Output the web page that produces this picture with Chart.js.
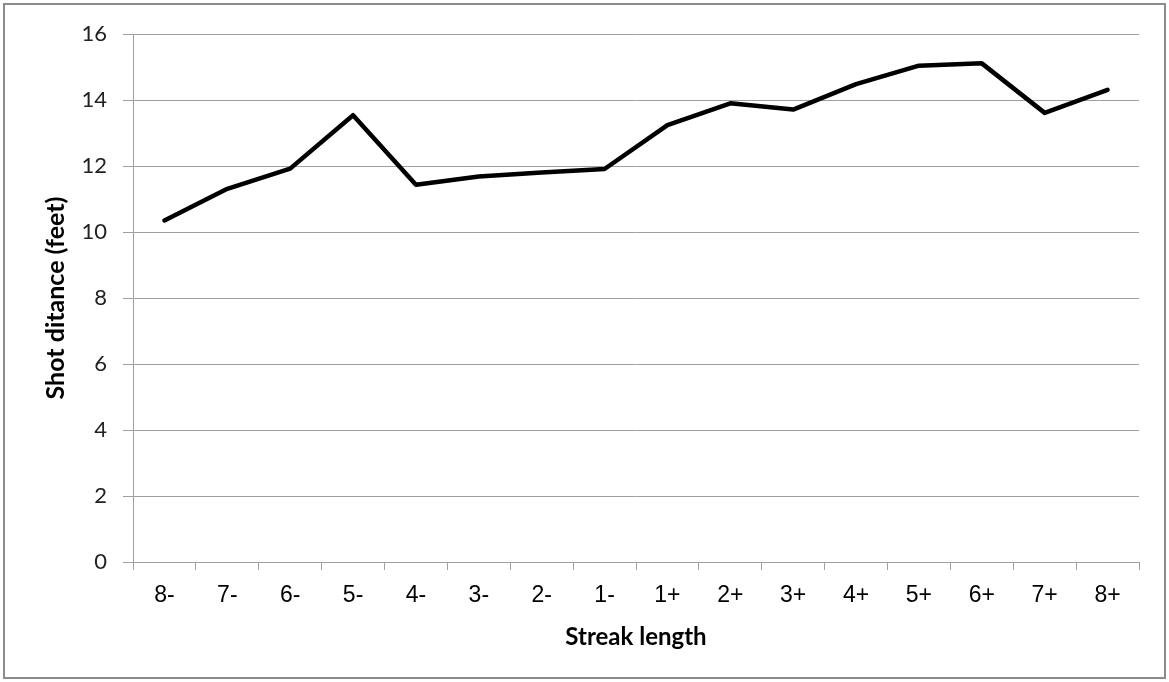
<!DOCTYPE html>
<html>
<head>
<meta charset="utf-8">
<title>Shot distance by streak length</title>
<script src="https://cdn.jsdelivr.net/npm/chart.js@4"></script>
<style>
    html, body { margin: 0; padding: 0; background: #fff; }
    #wrap { width: 1169px; height: 682px; position: relative; }
</style>
</head>
<body>
<div id="wrap"><canvas id="chart"></canvas></div>
<script>
// --- DATA ---
const streakLabels = ['8-', '7-', '6-', '5-', '4-', '3-', '2-', '1-', '1+', '2+', '3+', '4+', '5+', '6+', '7+', '8+'];
const shotDistance = [10.35, 11.31, 11.92, 13.54, 11.43, 11.68, 11.80, 11.91, 13.24, 13.90, 13.71, 14.48, 15.04, 15.11, 13.61, 14.31];
const yTicks = [0, 2, 4, 6, 8, 10, 12, 14, 16];

// outer grey frame like the spreadsheet chart box
const framePlugin = {
    id: 'frame',
    beforeDraw(chart) {
        const ctx = chart.ctx;
        ctx.save();
        ctx.fillStyle = '#fff';
        ctx.fillRect(0, 0, chart.width, chart.height);
        ctx.strokeStyle = '#8c8c8c';
        ctx.lineWidth = 2;
        ctx.strokeRect(4, 4, chart.width - 8, chart.height - 8);
        ctx.restore();
    }
};

const ctx = document.getElementById('chart').getContext('2d');
new Chart(ctx, {
    type: 'line',
    data: {
        labels: streakLabels,
        datasets: [{
            data: shotDistance,
            borderColor: '#000',
            borderWidth: 4.5,
            pointRadius: 0,
            pointHoverRadius: 0,
            tension: 0,
            borderCapStyle: 'round',
            borderJoinStyle: 'round'
        }]
    },
    options: {
        responsive: true,
        maintainAspectRatio: false,
        animation: false,
        events: [],
        layout: { padding: { top: 34, right: 30, bottom: 0, left: 0 } },
        plugins: { legend: { display: false }, tooltip: { enabled: false } },
        scales: {
            x: {
                offset: true,
                grid: { offset: true, drawOnChartArea: false, drawTicks: true, tickLength: 8, color: '#a0a0a0' },
                border: { color: '#a0a0a0', width: 1 },
                ticks: { color: '#000', padding: 12, maxRotation: 0, font: { family: 'Liberation Sans', size: 23 } },
                title: { display: true, text: 'Streak length', color: '#000', padding: { top: 0, bottom: 30 }, font: { family: 'Lato', size: 24, weight: 'bold' } },
                afterFit(scale) { scale.height = 120; }
            },
            y: {
                min: 0,
                max: 16,
                afterBuildTicks(scale) { scale.ticks = yTicks.map(v => ({ value: v })); },
                grid: { color: '#a0a0a0', tickLength: 10, lineWidth: 1 },
                border: { color: '#a0a0a0', width: 1 },
                ticks: { color: '#222', padding: 16, font: { family: 'Lato', size: 22 } },
                title: { display: true, text: 'Shot ditance (feet)', color: '#000', padding: { top: 41, bottom: 0 }, font: { family: 'Lato', size: 25, weight: 'bold' } },
                afterFit(scale) { scale.width = 133; }
            }
        }
    },
    plugins: [framePlugin]
});
</script>
</body>
</html>
